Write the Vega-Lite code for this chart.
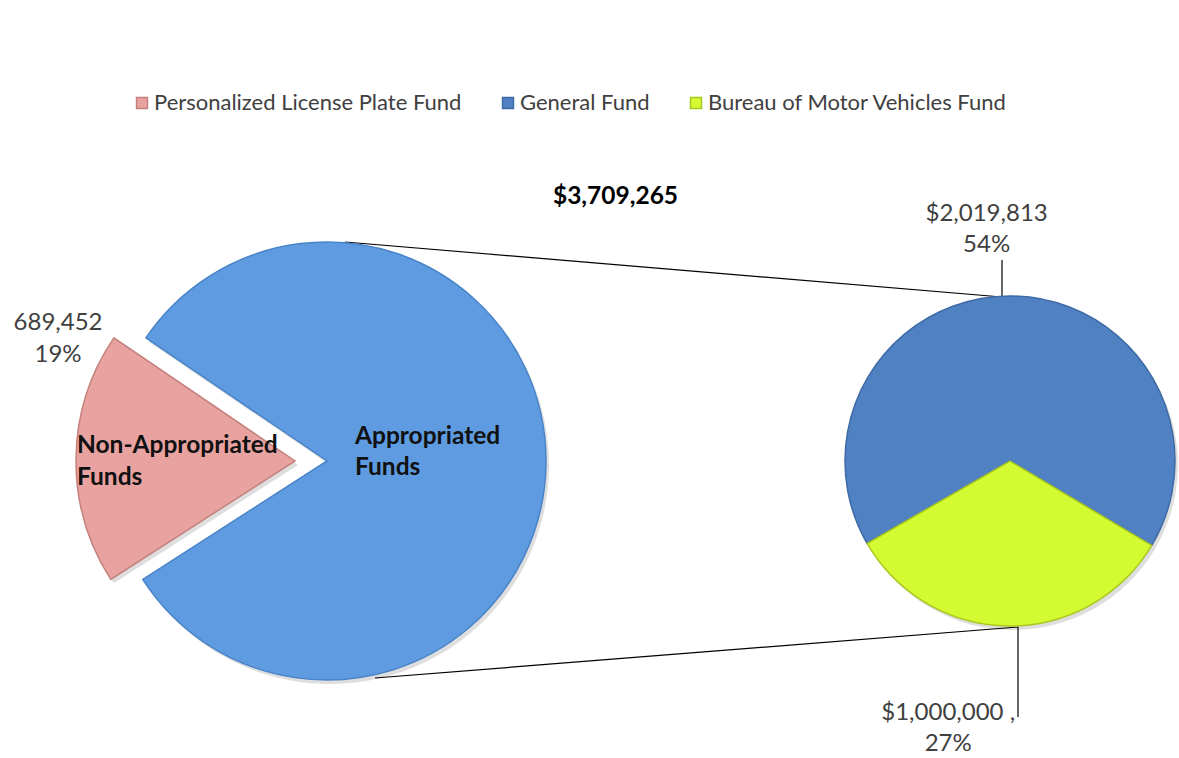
{
  "$schema": "https://vega.github.io/schema/vega-lite/v6.json",
  "width": 1179,
  "height": 758,
  "padding": 0,
  "autosize": {"type": "none"},
  "background": "#ffffff",
  "config": {"view": {"stroke": null}, "font": "Lato"},
  "title": {
    "text": "$3,709,265",
    "anchor": "middle",
    "dx": 26,
    "dy": 228,
    "offset": 0,
    "baseline": "alphabetic",
    "fontSize": 24.5,
    "fontWeight": "bold",
    "font": "Lato",
    "color": "#000000"
  },
  "data": {
    "values": [
      {"pie": "Total", "fund": "Personalized License Plate Fund", "slice": "Non-Appropriated\nFunds", "value": 689452, "label": "689,452\n19%"},
      {"pie": "Total", "fund": "Appropriated Funds", "slice": "Appropriated\nFunds", "value": 3019813, "label": ""},
      {"pie": "Breakdown", "fund": "General Fund", "slice": "", "value": 2019813, "label": "$2,019,813\n54%"},
      {"pie": "Breakdown", "fund": "Bureau of Motor Vehicles Fund", "slice": "", "value": 1000000, "label": "$1,000,000 ,\n27%"}
    ]
  },
  "encoding": {
    "x": {"field": "pie", "type": "nominal", "scale": {"type": "point", "domain": ["Total", "Breakdown"], "range": [327, 1010], "padding": 0}, "axis": null},
    "y": {"field": "pie", "type": "nominal", "scale": {"type": "point", "domain": ["Total", "Breakdown"], "range": [461, 461], "padding": 0}, "axis": null}
  },
  "layer": [
    {
      "data": {"values": [{"pie": "Total", "to": "Breakdown"}]},
      "mark": {"type": "rule", "color": "#000000", "strokeWidth": 1.2, "xOffset": 18, "yOffset": -219, "x2Offset": -8, "y2Offset": -164},
      "encoding": {"x2": {"field": "to"}, "y2": {"field": "to"}}
    },
    {
      "data": {"values": [{"pie": "Total", "to": "Breakdown"}]},
      "mark": {"type": "rule", "color": "#000000", "strokeWidth": 1.2, "xOffset": 48, "yOffset": 217, "x2Offset": 8, "y2Offset": 166},
      "encoding": {"x2": {"field": "to"}, "y2": {"field": "to"}}
    },
    {
      "data": {"values": [{"pie": "Breakdown"}]},
      "mark": {"type": "rule", "color": "#000000", "strokeWidth": 1.2, "xOffset": -8, "yOffset": -201, "y2Offset": -164},
      "encoding": {"y2": {"field": "pie"}}
    },
    {
      "data": {"values": [{"pie": "Breakdown"}]},
      "mark": {"type": "rule", "color": "#000000", "strokeWidth": 1.2, "xOffset": 8, "yOffset": 166, "y2Offset": 256},
      "encoding": {"y2": {"field": "pie"}}
    },
    {
      "transform": [{"filter": "datum.pie === 'Total'"}],
      "encoding": {
        "theta": {"field": "value", "type": "quantitative", "stack": true, "scale": {"range": [5.3093, 11.5925]}},
        "order": {"field": "value", "type": "quantitative", "sort": "descending"},
        "color": {
          "field": "fund", "type": "nominal",
          "scale": {"domain": ["Personalized License Plate Fund", "General Fund", "Bureau of Motor Vehicles Fund", "Appropriated Funds"], "range": ["#E8A3A0", "#5082C3", "#D4FA32", "#5E9BE0"]},
          "legend": {"title": null, "orient": "none", "legendX": 131, "legendY": 92, "direction": "horizontal", "values": ["Personalized License Plate Fund", "General Fund", "Bureau of Motor Vehicles Fund"], "symbolType": "square", "symbolSize": 120, "labelFontSize": 22, "labelFont": "Lato", "labelColor": "#404040", "labelLimit": 500, "columnPadding": 35, "labelOffset": 1, "symbolOpacity": 1}
        }
      },
      "layer": [
        {
          "mark": {"type": "arc", "radius": 219, "xOffset": 3, "yOffset": 4},
          "encoding": {
            "color": {"value": "#000000"},
            "opacity": {"condition": {"test": "datum.fund === 'Personalized License Plate Fund'", "value": 0}, "value": 0.13}
          }
        },
        {
          "mark": {"type": "arc", "radius": 219, "xOffset": -29, "yOffset": 4},
          "encoding": {
            "color": {"value": "#000000"},
            "opacity": {"condition": {"test": "datum.fund === 'Personalized License Plate Fund'", "value": 0.13}, "value": 0}
          }
        },
        {
          "mark": {"type": "arc", "radius": 219, "strokeWidth": 1.5},
          "encoding": {
            "stroke": {"field": "fund", "type": "nominal", "scale": {"domain": ["Personalized License Plate Fund", "General Fund", "Bureau of Motor Vehicles Fund", "Appropriated Funds"], "range": ["#C4807D", "#3E6AA6", "#A9C81E", "#4A84C8"]}, "legend": null},
            "opacity": {"condition": {"test": "datum.fund === 'Personalized License Plate Fund'", "value": 0}, "value": 1}
          }
        },
        {
          "mark": {"type": "arc", "radius": 219, "strokeWidth": 1.5, "xOffset": -32},
          "encoding": {
            "stroke": {"field": "fund", "type": "nominal", "legend": null},
            "opacity": {"condition": {"test": "datum.fund === 'Personalized License Plate Fund'", "value": 1}, "value": 0}
          }
        },
        {
          "mark": {"type": "text", "radius": 28, "align": "left", "baseline": "middle", "dy": -24, "fontSize": 24.5, "fontWeight": "bold", "lineBreak": "\n", "lineHeight": 31},
          "encoding": {
            "text": {"field": "slice"},
            "color": {"value": "#111111"},
            "opacity": {"condition": {"test": "datum.fund === 'Appropriated Funds'", "value": 1}, "value": 0}
          }
        },
        {
          "mark": {"type": "text", "radius": 218, "xOffset": -32, "dy": -12, "align": "left", "baseline": "middle", "fontSize": 24.5, "fontWeight": "bold", "lineBreak": "\n", "lineHeight": 32},
          "encoding": {
            "text": {"field": "slice"},
            "color": {"value": "#111111"},
            "opacity": {"condition": {"test": "datum.fund === 'Personalized License Plate Fund'", "value": 1}, "value": 0}
          }
        },
        {
          "mark": {"type": "text", "radius": 237, "xOffset": -32, "dy": -135, "align": "center", "baseline": "middle", "fontSize": 24, "lineBreak": "\n", "lineHeight": 32},
          "encoding": {
            "text": {"field": "label"},
            "color": {"value": "#404040"},
            "opacity": {"condition": {"test": "datum.fund === 'Personalized License Plate Fund'", "value": 1}, "value": 0}
          }
        }
      ]
    },
    {
      "transform": [{"filter": "datum.pie === 'Breakdown'"}],
      "encoding": {
        "theta": {"field": "value", "type": "quantitative", "stack": true, "scale": {"range": [4.18879, 10.47198]}},
        "order": {"field": "value", "type": "quantitative", "sort": "descending"},
        "color": {
          "field": "fund", "type": "nominal",
          "legend": {"title": null, "orient": "none", "legendX": 131, "legendY": 92, "direction": "horizontal", "values": ["Personalized License Plate Fund", "General Fund", "Bureau of Motor Vehicles Fund"], "symbolType": "square", "symbolSize": 120, "labelFontSize": 22, "labelFont": "Lato", "labelColor": "#404040", "labelLimit": 500, "columnPadding": 35, "labelOffset": 1, "symbolOpacity": 1}
        }
      },
      "layer": [
        {
          "mark": {"type": "arc", "radius": 165, "xOffset": 3, "yOffset": 4},
          "encoding": {"color": {"value": "#000000"}, "opacity": {"value": 0.13}}
        },
        {
          "mark": {"type": "arc", "radius": 165, "strokeWidth": 1.5},
          "encoding": {"stroke": {"field": "fund", "type": "nominal", "legend": null}}
        },
        {
          "mark": {"type": "text", "radius": 233, "dx": -25, "dy": -14, "align": "center", "baseline": "middle", "fontSize": 24, "lineBreak": "\n", "lineHeight": 31},
          "encoding": {
            "text": {"field": "label"},
            "color": {"value": "#404040"},
            "opacity": {"condition": {"test": "datum.fund === 'General Fund'", "value": 1}, "value": 0}
          }
        },
        {
          "mark": {"type": "text", "radius": 266, "dx": -60, "dy": -14, "align": "center", "baseline": "middle", "fontSize": 24, "lineBreak": "\n", "lineHeight": 31},
          "encoding": {
            "text": {"field": "label"},
            "color": {"value": "#404040"},
            "opacity": {"condition": {"test": "datum.fund === 'Bureau of Motor Vehicles Fund'", "value": 1}, "value": 0}
          }
        }
      ]
    }
  ],
  "resolve": {"scale": {"theta": "independent"}}
}
